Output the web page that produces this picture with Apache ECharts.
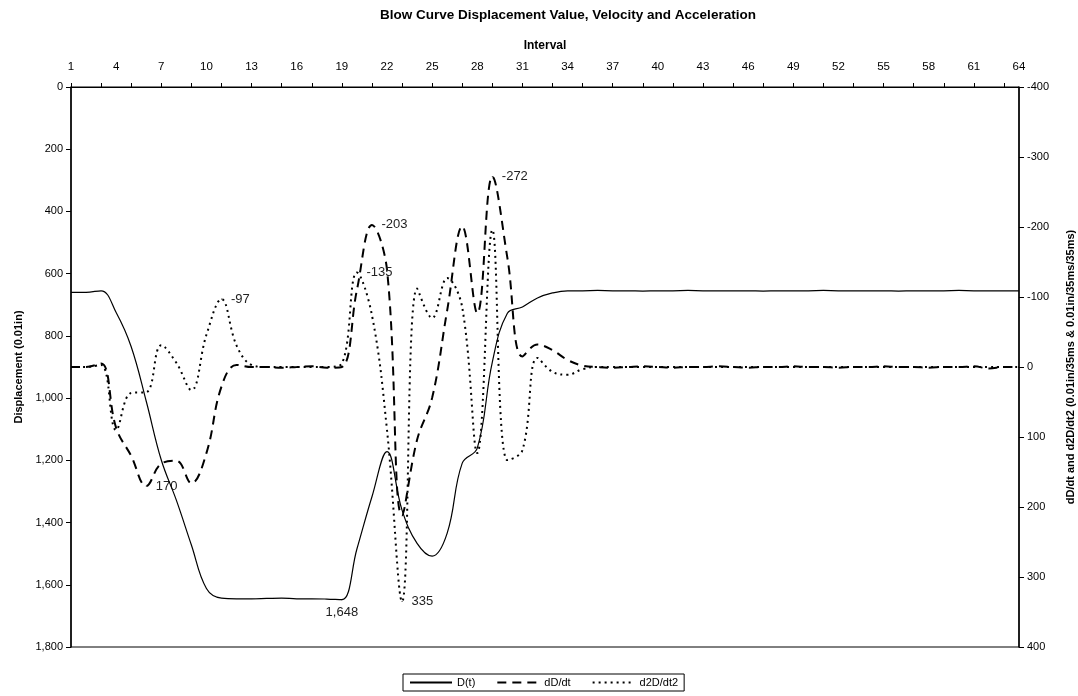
<!DOCTYPE html>
<html>
<head>
<meta charset="utf-8">
<title>Blow Curve Displacement Value, Velocity and Acceleration</title>
<script src="https://cdn.jsdelivr.net/npm/echarts@6/dist/echarts.min.js"></script>
<style>
  html, body { margin: 0; padding: 0; background: #fff; }
  #chart { width: 1078px; height: 696px; }
</style>
</head>
<body>
<div id="chart"></div>
<script>
// Interval numbers along the top axis
const intervals = Array.from({ length: 64 }, (_, i) => String(i + 1));

// Displacement D(t), 0.01in
const displacement = [
  660, 660, 655, 725, 835, 1010, 1199, 1328, 1472, 1612,
  1643, 1645, 1645, 1644, 1643, 1645, 1645, 1646, 1648, 1485,
  1317, 1172, 1360, 1467, 1508, 1434, 1209, 1161, 884, 727,
  707, 678, 662, 655, 655, 654, 655, 655, 656, 655,
  655, 654, 655, 655, 655, 655, 656, 655, 655, 655,
  654, 655, 655, 655, 655, 656, 655, 655, 655, 654,
  655, 655, 655, 655
];

// Velocity dD/dt, 0.01in/35ms
const velocity = [
  0, 0, -5, 87, 127, 170, 138, 134, 166, 123,
  28, -3, 0, 0, 1, 0, -1, 1, 0, -110,
  -203, -139, 212, 104, 44, -81, -201, -77, -272, -156,
  -15, -32, -24, -10, -2, 0, 1, 0, -1, 0,
  1, 0, 0, -1, 0, 1, 0, 0, -1, 0,
  0, 1, 0, 0, -1, 0, 0, 1, 0, 0,
  -1, 2, 0, 0
];

// Acceleration d2D/dt2, 0.01in/35ms/35ms
const acceleration = [
  0, 0, -3, 90, 37, 36, -31, -6, 33, -46,
  -97, -31, -3, 0, 0, 0, 0, 0, -5, -135,
  -74, 90, 335, -112, -70, -127, -85, 123, -196, 133,
  119, -13, 7, 11, 3, 0, 0, 0, 0, 0,
  0, 0, 0, 0, 0, 0, 0, 0, 0, 0,
  0, 0, 0, 0, 0, 0, 0, 0, 0, 0,
  0, 0, 0, 0
];

// Interval numbers that carry a value label, with the label side
const displacementLabels = { 19: 'bottom' };
const velocityLabels = { 6: 'right', 21: 'right', 29: 'right' };
const accelerationLabels = { 11: 'right', 20: 'right', 23: 'right' };

const FONT = "'Liberation Sans', Arial, sans-serif";
const fmt = v => Number(v).toLocaleString('en-US');

// Plain values stay symbol-less; labelled points get a tiny symbol to host the label
function labelled(values, marks) {
  return values.map((v, i) => {
    const pos = marks[i + 1];
    if (!pos) return v;
    return {
      value: v,
      symbol: 'circle',
      symbolSize: 1,
      label: {
        show: true, position: pos, distance: pos === 'bottom' ? 6 : 9,
        formatter: p => fmt(p.value),
        color: '#222', fontSize: 13, fontFamily: FONT
      }
    };
  });
}

const chart = echarts.init(document.getElementById('chart'), null, { renderer: 'canvas' });

const axisText = { color: '#000', fontSize: 11, fontFamily: FONT };
const axisNameText = { color: '#000', fontSize: 11, fontWeight: 'bold', fontFamily: FONT };

function lineSeries(name, axis, values, marks, lineStyle, z) {
  return {
    name,
    type: 'line',
    yAxisIndex: axis,
    smooth: 0.4,
    symbol: 'none',
    showSymbol: true,
    showAllSymbol: true,
    color: '#000',
    itemStyle: { color: '#000' },
    lineStyle: Object.assign({ color: '#000' }, lineStyle),
    emphasis: { disabled: true },
    data: labelled(values, marks),
    z
  };
}

chart.setOption({
  animation: false,
  backgroundColor: '#fff',
  title: {
    text: 'Blow Curve Displacement Value, Velocity and Acceleration',
    left: 375, top: 3,
    textStyle: { color: '#000', fontSize: 13.5, fontWeight: 'bold', fontFamily: FONT }
  },
  legend: {
    bottom: 5, left: 403,
    itemWidth: 42, itemHeight: 10, itemGap: 21,
    padding: [3, 6, 3, 6],
    borderColor: '#000', borderWidth: 1,
    itemStyle: { opacity: 0 },
    textStyle: { color: '#000', fontSize: 11, fontFamily: FONT },
    data: ['D(t)', 'dD/dt', 'd2D/dt2']
  },
  grid: {
    left: 71, right: 59, top: 87, bottom: 49,
    outerBoundsMode: 'none',
    containLabel: false,
    show: true, borderColor: '#000', borderWidth: 1
  },
  xAxis: {
    type: 'category',
    position: 'top',
    data: intervals,
    boundaryGap: false,
    name: 'Interval',
    nameLocation: 'middle',
    nameGap: 35,
    nameTextStyle: Object.assign({}, axisNameText, { fontSize: 12 }),
    axisLine: { lineStyle: { color: '#000', width: 1 } },
    axisTick: { interval: 1, length: 4, lineStyle: { color: '#000' } },
    axisLabel: { interval: 2, margin: 14, ...axisText, fontSize: 11.5 },
    splitLine: { show: false }
  },
  yAxis: [
    {
      type: 'value',
      inverse: true,
      min: 0, max: 1800, interval: 200,
      position: 'left',
      name: 'Displacement (0.01in)',
      nameLocation: 'middle',
      nameRotate: 90,
      nameGap: 44,
      nameTextStyle: axisNameText,
      axisLine: { show: true, lineStyle: { color: '#000', width: 1.5 } },
      axisTick: { show: true, length: 5, lineStyle: { color: '#000' } },
      axisLabel: { formatter: v => fmt(v), margin: 8, ...axisText },
      splitLine: { show: false }
    },
    {
      type: 'value',
      inverse: true,
      min: -400, max: 400, interval: 100,
      position: 'right',
      name: 'dD/dt and d2D/dt2 (0.01in/35ms & 0.01in/35ms/35ms)',
      nameLocation: 'middle',
      nameRotate: 90,
      nameGap: 46,
      nameTextStyle: axisNameText,
      axisLine: { show: true, lineStyle: { color: '#000', width: 1.5 } },
      axisTick: { show: true, length: 5, lineStyle: { color: '#000' } },
      axisLabel: { margin: 8, ...axisText },
      splitLine: { show: false }
    }
  ],
  series: [
    lineSeries('D(t)', 0, displacement, displacementLabels, { width: 1.2, type: 'solid' }, 3),
    lineSeries('dD/dt', 1, velocity, velocityLabels, { width: 2, type: [9, 6] }, 2),
    lineSeries('d2D/dt2', 1, acceleration, accelerationLabels, { width: 2, type: [2, 4] }, 2)
  ]
});
</script>
</body>
</html>
